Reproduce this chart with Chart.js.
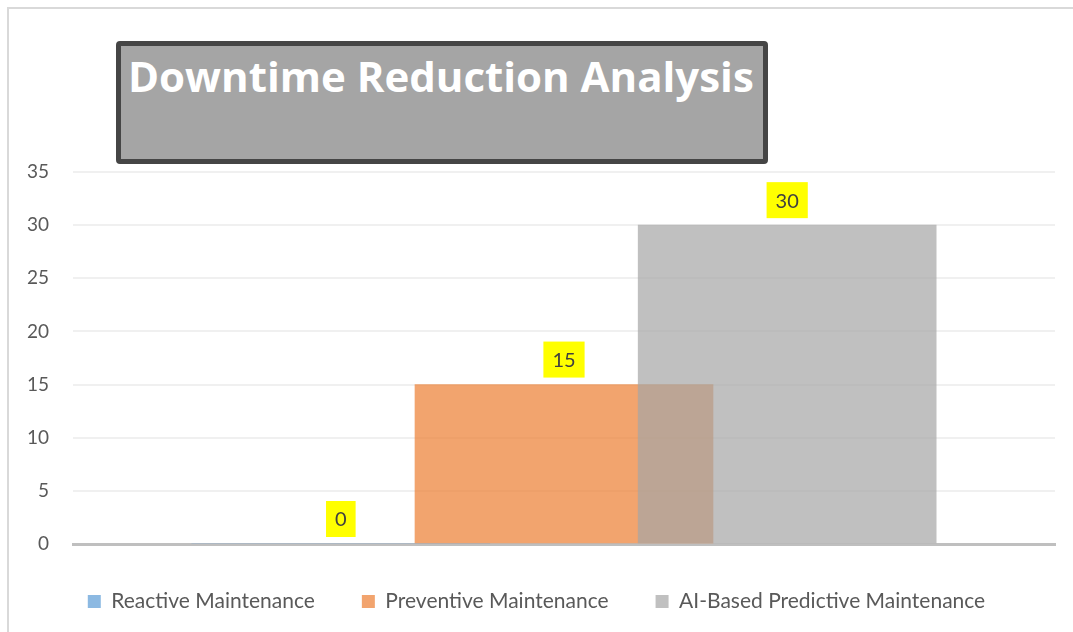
<!DOCTYPE html>
<html>
<head>
<meta charset="utf-8">
<title>Downtime Reduction Analysis</title>
<script src="https://cdn.jsdelivr.net/npm/chart.js@4"></script>
<style>
  body { margin: 0; background: #fff; overflow: hidden; }
  #wrap { position: relative; width: 1073px; height: 632px; overflow: hidden; }
  #frame {
    position: absolute; left: 7px; top: 7px; width: 1200px; height: 700px;
    border-left: 2px solid #d9d9d9; border-top: 2px solid #d9d9d9;
  }
  #chart { position: absolute; left: 0; top: 0; }
  #chartTitle {
    position: absolute; left: 116px; top: 41px; width: 652px; height: 123px;
    box-sizing: border-box; border: 5px solid #454545; border-radius: 4px;
    background: #a5a5a5; color: #fff; font: bold 42px "Open Sans", sans-serif;
    line-height: 42px; padding: 9px 0 0 7px; white-space: nowrap; z-index: 2;
  }
</style>
</head>
<body>
<div id="wrap">
  <div id="frame"></div>
  <canvas id="chart" width="1073" height="632"></canvas>
  <div id="chartTitle">Downtime Reduction Analysis</div>
</div>
<script>
// Chart data
const seriesNames = ["Reactive Maintenance", "Preventive Maintenance", "AI-Based Predictive Maintenance"];
const seriesValues = [0, 15, 30];
const seriesColors = ["rgba(91, 155, 213, 0.7)", "rgba(237, 125, 49, 0.7)", "rgba(165, 165, 165, 0.7)"];
const yTicks = [0, 5, 10, 15, 20, 25, 30, 35];

// Yellow value boxes above each bar
const valueLabels = {
    id: "valueLabels",
    afterDatasetsDraw(chart) {
        const ctx = chart.ctx;
        ctx.save();
        ctx.font = "20px Lato";
        ctx.textAlign = "center";
        ctx.textBaseline = "middle";
        chart.data.datasets.forEach((ds, i) => {
            chart.getDatasetMeta(i).data.forEach((bar, j) => {
                const text = String(ds.data[j].y);
                const w = ctx.measureText(text).width + 18;
                const h = 36;
                const bottom = bar.y - 7;
                ctx.fillStyle = "#ffff00";
                ctx.fillRect(bar.x - w / 2, bottom - h, w, h);
                ctx.fillStyle = "#404040";
                ctx.fillText(text, bar.x, bottom - h / 2 + 1);
            });
        });
        ctx.restore();
    }
};

const datasets = seriesNames.map((name, i) => ({
    label: name,
    data: [{ x: i, y: seriesValues[i] }],
    backgroundColor: seriesColors[i],
    borderWidth: 0,
    order: seriesNames.length - i, // later series drawn on top
}));

new Chart(document.getElementById("chart"), {
    type: "bar",
    data: { datasets },
    plugins: [valueLabels],
    options: {
        responsive: false,
        animation: false,
        layout: { padding: { top: 172, left: 18, right: 18, bottom: 10 } },
        datasets: { bar: { grouped: false, barThickness: 298 } },
        scales: {
            x: {
                type: "linear",
                min: -1.2,
                max: 3.2,
                offset: false,
                ticks: { display: false },
                grid: { display: false },
                border: { display: true, color: "#bfbfbf", width: 3 },
                afterFit: (scale) => { scale.height = 0; },
            },
            y: {
                min: 0,
                max: 35,
                afterBuildTicks: (scale) => { scale.ticks = yTicks.map(v => ({ value: v })); },
                ticks: { color: "#595959", font: { family: "Lato", size: 19 }, padding: 24 },
                grid: {
                    drawTicks: false,
                    lineWidth: 2,
                    color: (c) => c.tick && c.tick.value === 0 ? "rgba(0,0,0,0)" : "#f0f0f0",
                },
                border: { display: false },
                afterFit: (scale) => { scale.width = 55; },
            },
        },
        plugins: {
            title: { display: false },
            tooltip: { enabled: false },
            legend: {
                position: "bottom",
                labels: {
                    boxWidth: 13,
                    boxHeight: 13,
                    padding: 47,
                    color: "#595959",
                    font: { family: "Lato", size: 21 },
                    sort: (a, b) => a.datasetIndex - b.datasetIndex,
                },
            },
        },
    },
});
</script>
</body>
</html>
